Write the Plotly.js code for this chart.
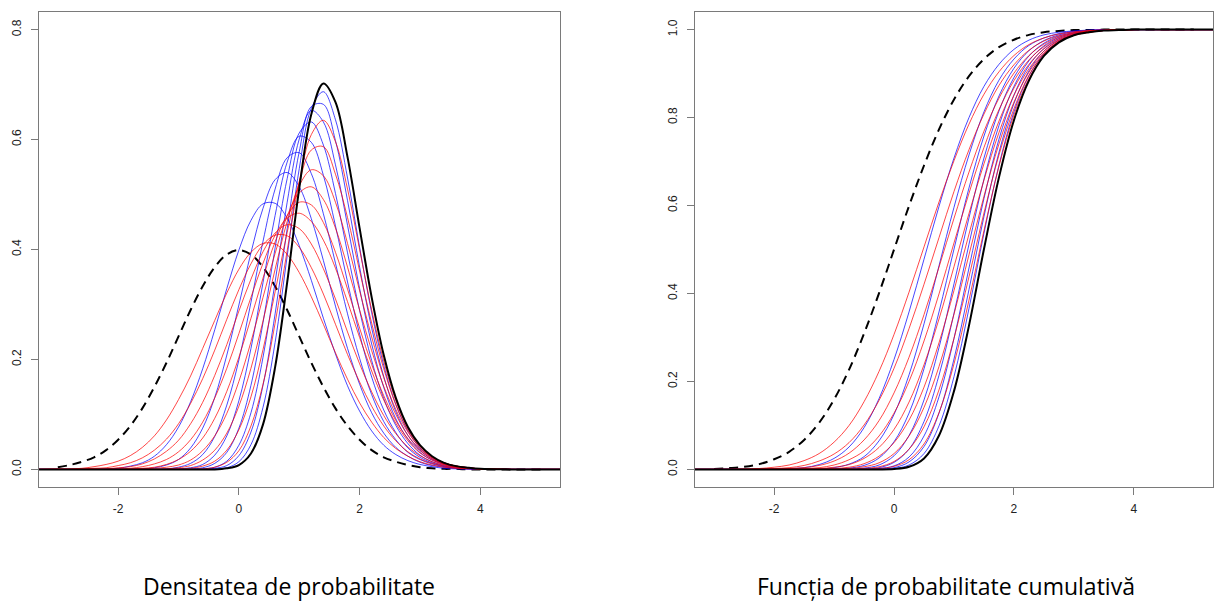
<!DOCTYPE html>
<html><head><meta charset="utf-8">
<script src="https://cdn.plot.ly/plotly-3.0.1.min.js"></script>
<style>html,body{margin:0;padding:0;background:#fff}#chart{width:1214px;height:601px}</style>
</head><body><div id="chart"></div>
<script>
// ---------- Density panel: x grid and curve values ----------
const densX = [-3.32,-3.0,-2.8,-2.6,-2.4,-2.2,-2.0,-1.8,-1.6,-1.4,-1.2,-1.0,-0.8,-0.6,-0.4,-0.2,0,0.2,0.4,0.6,0.8,1.0,1.2,1.4,1.6,1.8,2.0,2.2,2.4,2.6,2.8,3.0,3.2,3.4,3.6,3.8,4.0,4.5,5.0,5.32];
const densNormal = [null,.004,.008,.014,.022,.035,.054,.079,.111,.150,.194,.242,.290,.333,.368,.391,.399,.391,.368,.333,.290,.242,.194,.150,.111,.079,.054,.035,.022,.014,.008,.004,.002,.001,.001,0,0,0,0,null];
const densMax2 = [0,0,0,0,0,.001,.002,.006,.012,.024,.045,.077,.123,.183,.254,.329,.399,.453,.483,.484,.457,.407,.344,.275,.210,.152,.106,.070,.044,.027,.016,.009,.005,.002,.001,.001,0,0,0,0];
const densMax3 = [0,0,0,0,0,0,0,0,.001,.003,.008,.018,.039,.075,.131,.208,.299,.394,.475,.527,.540,.514,.456,.380,.297,.220,.155,.103,.066,.040,.024,.013,.007,.004,.002,.001,0,0,0,0];
const densMax4 = [0,0,0,0,0,0,0,0,0,0,.001,.004,.011,.027,.060,.117,.199,.304,.415,.510,.567,.576,.538,.465,.375,.283,.202,.136,.087,.054,.031,.018,.010,.005,.002,.001,.001,0,0,0];
const densMax5 = [0,0,0,0,0,0,0,0,0,0,0,.001,.003,.009,.026,.061,.125,.220,.340,.462,.559,.606,.595,.535,.443,.341,.246,.168,.108,.067,.039,.022,.012,.006,.003,.001,.001,0,0,0];
const densMax6 = [0,0,0,0,0,0,0,0,0,0,0,0,.001,.003,.011,.031,.075,.153,.267,.403,.529,.612,.632,.590,.502,.394,.289,.198,.129,.080,.047,.026,.014,.007,.004,.002,.001,0,0,0];
const densMax7 = [0,0,0,0,0,0,0,0,0,0,0,0,0,.001,.004,.015,.044,.103,.204,.341,.486,.601,.653,.632,.554,.444,.329,.228,.149,.092,.055,.031,.017,.009,.004,.002,.001,0,0,0];
const densMax8 = [0,0,0,0,0,0,0,0,0,0,0,0,0,0,.002,.007,.025,.068,.153,.283,.438,.578,.660,.664,.598,.489,.368,.257,.169,.105,.062,.035,.019,.010,.005,.002,.001,0,0,0];
const densMax9 = [0,0,0,0,0,0,0,0,0,0,0,0,0,0,.001,.003,.014,.045,.113,.231,.388,.547,.657,.687,.636,.530,.404,.285,.189,.118,.070,.039,.021,.011,.006,.003,.001,0,0,0];
const densMax10 = [0,0,0,0,0,0,0,0,0,0,0,0,0,0,0,.002,.008,.029,.082,.186,.340,.511,.646,.702,.668,.568,.439,.313,.208,.130,.077,.044,.024,.012,.006,.003,.001,0,0,0];
const densCorr1 = [0,0,0,0,0,0,0,0,0,0,0,0,0,.001,.004,.013,.034,.079,.155,.266,.398,.523,.609,.635,.596,.510,.400,.290,.197,.125,.075,.043,.023,.012,.006,.003,.001,0,0,0];
const densCorr2 = [0,0,0,0,0,0,0,0,0,0,0,.001,.002,.006,.015,.035,.072,.132,.218,.323,.431,.523,.581,.587,.537,.458,.361,.266,.183,.118,.072,.042,.023,.012,.006,.003,.001,0,0,0];
const densCorr3 = [0,0,0,0,0,0,0,0,0,0,.001,.003,.007,.017,.035,.066,.115,.184,.270,.364,.451,.516,.545,.534,.486,.411,.325,.241,.167,.109,.068,.040,.022,.012,.006,.003,.001,0,0,0];
const densCorr4 = [0,0,0,0,0,0,0,0,.001,.002,.004,.008,.017,.034,.061,.102,.160,.232,.313,.393,.461,.503,.514,.491,.439,.368,.290,.216,.151,.100,.062,.037,.021,.011,.006,.003,.001,0,0,0];
const densCorr5 = [0,0,0,0,0,0,0,.001,.002,.004,.009,.018,.033,.057,.093,.142,.204,.275,.348,.414,.462,.486,.481,.449,.395,.328,.257,.191,.134,.089,.056,.034,.019,.010,.005,.003,.001,0,0,0];
const densCorr6 = [0,0,0,0,0,0,.001,.002,.005,.010,.018,.032,.054,.086,.130,.184,.247,.313,.375,.426,.457,.466,.451,.417,.366,.305,.240,.179,.126,.084,.052,.030,.017,.009,.005,.002,.001,0,0,0];
const densCorr7 = [0,0,0,0,.001,.001,.003,.005,.010,.019,.033,.053,.083,.122,.171,.227,.288,.346,.396,.430,.445,.438,.410,.365,.310,.250,.192,.141,.098,.065,.041,.025,.014,.008,.004,.002,.001,0,0,0];
const densCorr8 = [0,0,0,.001,.002,.003,.007,.012,.021,.035,.055,.083,.120,.165,.217,.273,.327,.374,.409,.426,.425,.404,.367,.319,.264,.209,.159,.115,.079,.052,.032,.019,.011,.006,.003,.002,.001,0,0,0];
const densCorr9 = [0,.001,.001,.002,.005,.009,.015,.025,.040,.061,.090,.127,.170,.220,.271,.321,.364,.395,.411,.410,.391,.358,.314,.264,.212,.164,.121,.086,.058,.038,.024,.014,.008,.004,.002,.001,.001,0,0,0];

// ---------- Cumulative panel: x grid and curve values ----------
const cdfX = [-3.32,-3.0,-2.75,-2.5,-2.25,-2.0,-1.75,-1.5,-1.25,-1.0,-0.75,-0.5,-0.25,0,0.25,0.5,0.75,1.0,1.25,1.5,1.75,2.0,2.25,2.5,2.75,3.0,3.25,3.5,3.75,4.0,4.5,5.0,5.32];
const cdfNormal = [null,.001,.003,.006,.012,.023,.040,.067,.106,.159,.227,.309,.401,.500,.599,.691,.773,.841,.894,.933,.960,.977,.988,.994,.997,.999,.999,1,1,1,1,1,null];
const cdfMax2 = [0,0,0,0,0,.001,.002,.004,.011,.025,.051,.095,.161,.250,.358,.478,.598,.708,.800,.871,.921,.955,.976,.988,.994,.997,.999,1,1,1,1,1,1];
const cdfMax3 = [0,0,0,0,0,0,0,0,.001,.004,.012,.029,.065,.125,.215,.331,.463,.596,.715,.813,.885,.933,.964,.981,.991,.996,.998,.999,1,1,1,1,1];
const cdfMax4 = [0,0,0,0,0,0,0,0,0,.001,.003,.009,.026,.063,.128,.229,.358,.501,.640,.758,.849,.912,.952,.975,.988,.995,.998,.999,1,1,1,1,1];
const cdfMax5 = [0,0,0,0,0,0,0,0,0,0,.001,.003,.010,.031,.077,.158,.277,.422,.572,.708,.815,.891,.940,.969,.985,.993,.997,.999,1,1,1,1,1];
const cdfMax6 = [0,0,0,0,0,0,0,0,0,0,0,.001,.004,.016,.046,.109,.214,.355,.512,.660,.782,.871,.929,.963,.982,.992,.997,.999,.999,1,1,1,1];
const cdfMax7 = [0,0,0,0,0,0,0,0,0,0,0,0,.002,.008,.028,.076,.165,.298,.458,.616,.751,.851,.918,.957,.979,.991,.996,.998,.999,1,1,1,1];
const cdfMax8 = [0,0,0,0,0,0,0,0,0,0,0,0,.001,.004,.017,.052,.128,.251,.409,.575,.721,.832,.906,.951,.976,.989,.995,.998,.999,1,1,1,1];
const cdfMax9 = [0,0,0,0,0,0,0,0,0,0,0,0,0,.002,.010,.036,.099,.211,.366,.537,.692,.813,.895,.945,.973,.988,.995,.998,.999,1,1,1,1];
const cdfMax10 = [0,0,0,0,0,0,0,0,0,0,0,0,0,.001,.006,.025,.077,.178,.327,.501,.664,.794,.884,.940,.971,.987,.994,.998,.999,1,1,1,1];
const cdfCorr1 = [0,0,0,0,0,0,0,0,0,0,0,0,.002,.007,.022,.058,.129,.240,.385,.543,.689,.806,.889,.941,.971,.987,.994,.998,.999,1,1,1,1];
const cdfCorr2 = [0,0,0,0,0,0,0,0,0,0,0,.002,.006,.018,.046,.097,.181,.298,.438,.583,.715,.820,.896,.944,.972,.987,.994,.998,.999,1,1,1,1];
const cdfCorr3 = [0,0,0,0,0,0,0,0,0,.001,.002,.006,.015,.036,.076,.141,.234,.353,.488,.621,.740,.835,.903,.947,.973,.987,.994,.998,.999,1,1,1,1];
const cdfCorr4 = [0,0,0,0,0,0,0,0,.001,.002,.005,.013,.030,.061,.112,.187,.288,.407,.535,.658,.766,.851,.911,.951,.975,.988,.995,.998,.999,1,1,1,1];
const cdfCorr5 = [0,0,0,0,0,0,0,.001,.002,.005,.011,.025,.050,.091,.153,.238,.342,.461,.582,.695,.792,.867,.921,.956,.977,.989,.995,.998,.999,1,1,1,1];
const cdfCorr6 = [0,0,0,0,0,0,.001,.002,.004,.010,.022,.042,.076,.128,.200,.292,.399,.515,.628,.732,.818,.884,.931,.961,.980,.990,.996,.998,.999,1,1,1,1];
const cdfCorr7 = [0,0,0,0,0,.001,.002,.004,.009,.019,.037,.067,.111,.174,.255,.352,.460,.571,.676,.769,.844,.901,.941,.967,.983,.992,.996,.998,.999,1,1,1,1];
const cdfCorr8 = [0,0,0,0,.001,.002,.004,.009,.019,.035,.061,.101,.157,.230,.320,.421,.527,.632,.727,.808,.873,.920,.953,.974,.986,.993,.997,.999,.999,1,1,1,1];
const cdfCorr9 = [0,0,0,.001,.002,.005,.010,.020,.036,.062,.100,.154,.223,.307,.403,.506,.608,.702,.785,.853,.904,.941,.966,.981,.990,.995,.998,.999,1,1,1,1,1];

// ---------- Tick labels and captions ----------
const xTickVals = [-2,0,2,4];
const xTickText = ["-2","0","2","4"];
const yDensTickVals = [0,0.2,0.4,0.6,0.8];
const yDensTickText = ["0.0","0.2","0.4","0.6","0.8"];
const yCdfTickVals = [0,0.2,0.4,0.6,0.8,1.0];
const yCdfTickText = ["0.0","0.2","0.4","0.6","0.8","1.0"];
const captions = ["Densitatea de probabilitate","Funcția de probabilitate cumulativă"];

const densBlue = [densMax2,densMax3,densMax4,densMax5,densMax6,densMax7,densMax8,densMax9];
const densRed = [densCorr1,densCorr2,densCorr3,densCorr4,densCorr5,densCorr6,densCorr7,densCorr8,densCorr9];
const cdfBlue = [cdfMax2,cdfMax3,cdfMax4,cdfMax5,cdfMax6,cdfMax7,cdfMax8,cdfMax9];
const cdfRed = [cdfCorr1,cdfCorr2,cdfCorr3,cdfCorr4,cdfCorr5,cdfCorr6,cdfCorr7,cdfCorr8,cdfCorr9];

const BLUE = "rgba(0,0,255,0.72)", RED = "rgba(255,0,0,0.72)";
function tr(x, y, xa, ya, color, width, dash){
  return {type:"scatter", mode:"lines", x:x, y:y, xaxis:xa, yaxis:ya, hoverinfo:"skip",
    line:{color:color, width:width, dash:dash||"solid", shape:"spline", smoothing:1}, connectgaps:false};
}
const traces = [];
traces.push(tr(densX, densNormal, "x", "y", "#000", 2, "9px,6px"));
densBlue.forEach(v => traces.push(tr(densX, v, "x", "y", BLUE, 1)));
densRed.forEach(v => traces.push(tr(densX, v, "x", "y", RED, 1)));
traces.push(tr(densX, densMax10, "x", "y", "#000", 2));
traces.push(tr(cdfX, cdfNormal, "x2", "y2", "#000", 2, "9px,6px"));
cdfBlue.forEach(v => traces.push(tr(cdfX, v, "x2", "y2", BLUE, 1)));
cdfRed.forEach(v => traces.push(tr(cdfX, v, "x2", "y2", RED, 1)));
traces.push(tr(cdfX, cdfMax10, "x2", "y2", "#000", 2));

const W = 1214, H = 601;
const FRAME = "#7a7a7a";
const tickFont = {family:"Liberation Sans, Arial, sans-serif", size:12, color:"#222"};
function xax(l, r, anchor){
  return {domain:[l/W, r/W], range:[-3.32,5.32], anchor:anchor, tickvals:xTickVals, ticktext:xTickText,
    ticks:"outside", ticklen:7, tickwidth:1, tickcolor:FRAME, showline:true, linecolor:FRAME, linewidth:1,
    mirror:true, showgrid:false, zeroline:false, tickfont:tickFont, ticklabelstandoff:4, fixedrange:true};
}
function yax(range, vals, text, anchor){
  return {domain:[1-487/H, 1-12/H], range:range, anchor:anchor, tickvals:vals, ticktext:text, tickangle:-90,
    ticks:"outside", ticklen:7, tickwidth:1, tickcolor:FRAME, showline:true, linecolor:FRAME, linewidth:1,
    mirror:true, showgrid:false, zeroline:false, tickfont:tickFont, ticklabelstandoff:5, fixedrange:true};
}
const capFont = {family:"Open Sans, Noto Sans, sans-serif", size:23, color:"#000"};
const layout = {
  width:W, height:H, margin:{l:0,r:0,t:0,b:0}, paper_bgcolor:"#fff", plot_bgcolor:"#fff", showlegend:false,
  xaxis: xax(38.5, 560, "y"),
  yaxis: yax([-0.032,0.832], yDensTickVals, yDensTickText, "x"),
  xaxis2: xax(695, 1213, "y2"),
  yaxis2: yax([-0.04,1.04], yCdfTickVals, yCdfTickText, "x2"),
  annotations:[
    {text:captions[0], xref:"paper", yref:"paper", x:289/W, y:1-586/H, xanchor:"center", yanchor:"middle", showarrow:false, font:capFont},
    {text:captions[1], xref:"paper", yref:"paper", x:946/W, y:1-586/H, xanchor:"center", yanchor:"middle", showarrow:false, font:capFont}
  ]
};
Plotly.newPlot("chart", traces, layout, {staticPlot:true, displayModeBar:false});
</script></body></html>
